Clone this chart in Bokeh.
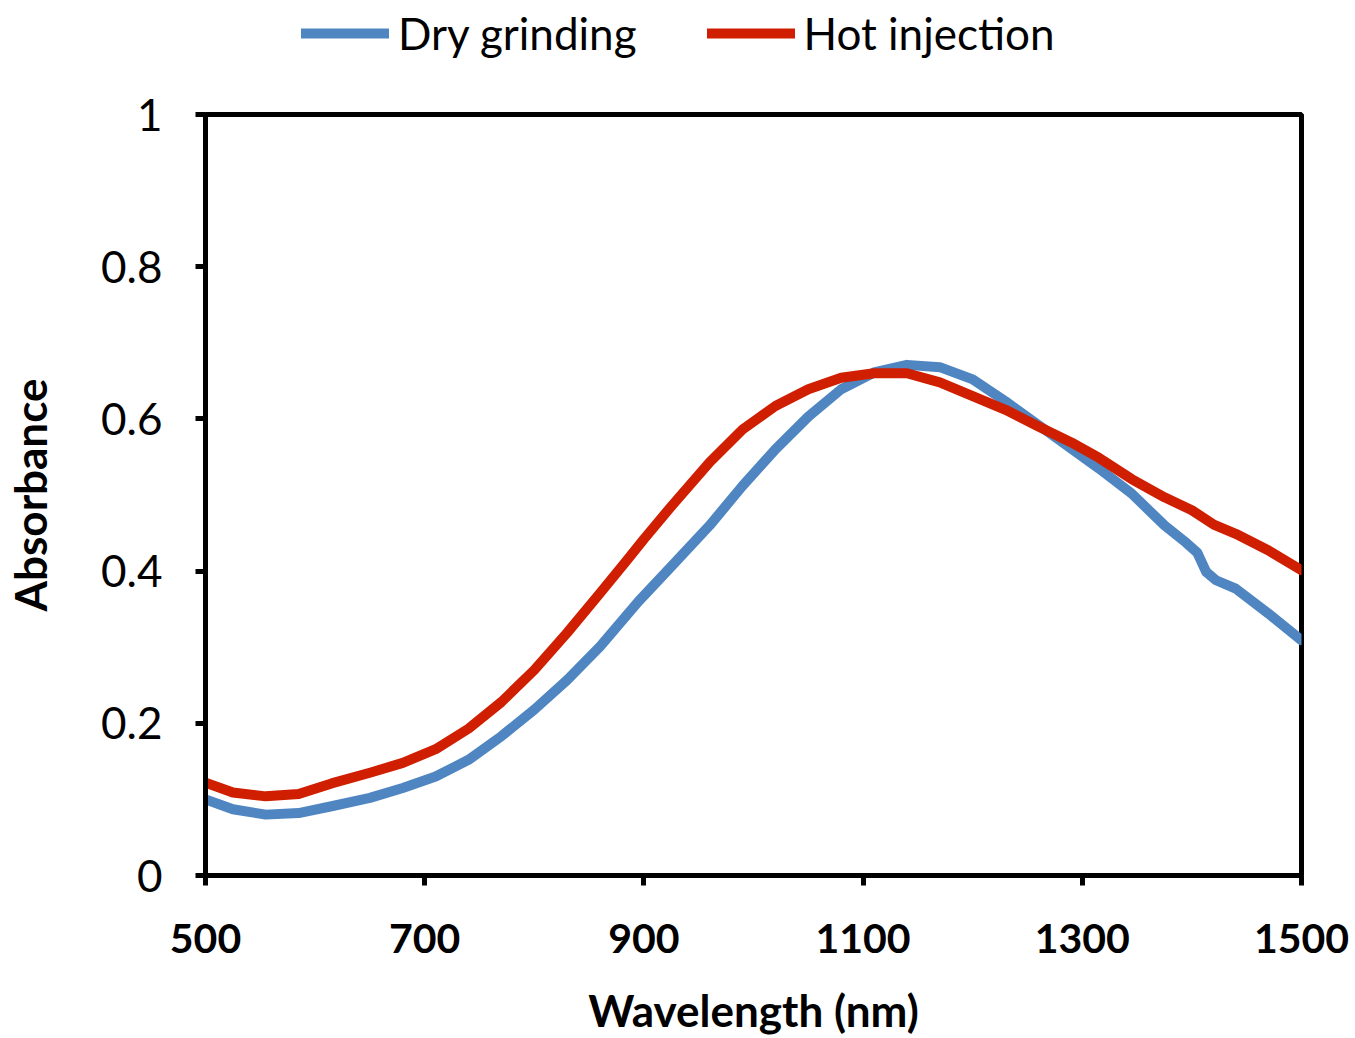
from bokeh.plotting import figure
from bokeh.layouts import column
from bokeh.models import Range1d, FixedTicker, CustomJSTickFormatter, Legend, LegendItem
from bokeh.embed import file_html
from bokeh.resources import INLINE

# Data
wl_dry = [500, 525, 555, 585, 615, 650, 680, 710, 740, 770, 800, 830, 860, 895, 925,
          960, 990, 1020, 1050, 1080, 1110, 1140, 1170, 1200, 1230, 1260, 1290, 1315,
          1345, 1375, 1395, 1405, 1413, 1422, 1440, 1470, 1500]
abs_dry = [0.100, 0.087, 0.080, 0.082, 0.091, 0.102, 0.115, 0.130, 0.152, 0.183, 0.218,
           0.257, 0.301, 0.360, 0.406, 0.460, 0.512, 0.560, 0.603, 0.639, 0.661, 0.671,
           0.668, 0.652, 0.623, 0.592, 0.561, 0.535, 0.502, 0.460, 0.437, 0.424, 0.399,
           0.388, 0.377, 0.344, 0.309]

wl_hot = [500, 525, 555, 585, 615, 650, 680, 710, 740, 770, 800, 830, 860, 885, 900,
          925, 960, 990, 1020, 1050, 1080, 1110, 1140, 1170, 1200, 1230, 1260, 1290,
          1315, 1345, 1375, 1400, 1420, 1440, 1470, 1500]
abs_hot = [0.122, 0.109, 0.104, 0.107, 0.121, 0.135, 0.148, 0.166, 0.193, 0.228, 0.270,
           0.319, 0.371, 0.415, 0.442, 0.485, 0.543, 0.586, 0.617, 0.639, 0.654, 0.660,
           0.660, 0.648, 0.630, 0.612, 0.590, 0.569, 0.549, 0.521, 0.497, 0.480, 0.461,
           0.449, 0.427, 0.401]

series_names = ["Dry grinding", "Hot injection"]
x_ticks = [500, 700, 900, 1100, 1300, 1500]
y_ticks = [0, 0.2, 0.4, 0.6, 0.8, 1.0]

FONT = "Lato"
BLUE = "#4F86C1"
RED = "#CF1E00"

# ---- main plot ----
p = figure(width=1355, height=958, output_backend="svg", toolbar_location=None,
           x_range=Range1d(500, 1500), y_range=Range1d(0, 1),
           min_border_left=205, min_border_right=54, min_border_top=34,
           min_border_bottom=162)

p.grid.visible = False
p.outline_line_color = "black"
p.outline_line_width = 5
p.outline_line_alpha = 1.0

r1 = p.line(wl_dry, abs_dry, line_color=BLUE, line_width=10, line_join="round", line_cap="round")
r2 = p.line(wl_hot, abs_hot, line_color=RED, line_width=10, line_join="round", line_cap="round")

for ax in (p.xaxis[0], p.yaxis[0]):
    ax.axis_line_color = "black"
    ax.axis_line_width = 5
    ax.major_tick_line_color = "black"
    ax.major_tick_line_width = 5
    ax.major_tick_in = 0
    ax.major_tick_out = 10
    ax.minor_tick_line_color = None
    ax.major_label_text_font = FONT
    ax.major_label_text_color = "black"
    ax.axis_label_text_font = FONT
    ax.axis_label_text_font_size = "44px"
    ax.axis_label_text_font_style = "bold"
    ax.axis_label_text_color = "black"

p.xaxis[0].ticker = FixedTicker(ticks=x_ticks)
p.xaxis[0].major_label_text_font_size = "41px"
p.xaxis[0].major_label_text_font_style = "bold"
p.xaxis[0].major_label_standoff = 38
p.xaxis[0].axis_label = "Wavelength (nm)"
p.xaxis[0].axis_label_standoff = 28

p.yaxis[0].ticker = FixedTicker(ticks=y_ticks)
p.yaxis[0].formatter = CustomJSTickFormatter(code="return String(Math.round(tick*10)/10);")
p.yaxis[0].major_label_text_font_size = "44px"
p.yaxis[0].major_label_standoff = 33
p.yaxis[0].axis_label = "Absorbance"
p.yaxis[0].axis_label_standoff = 42

# ---- legend strip above the plot (its lines lie outside its own view) ----
lf = figure(width=1355, height=80, output_backend="svg", toolbar_location=None,
            x_range=Range1d(0, 1), y_range=Range1d(0, 1),
            x_axis_location=None, y_axis_location=None, min_border=0)
lf.grid.visible = False
lf.outline_line_color = None
d1 = lf.line(wl_dry, abs_dry, line_color=BLUE, line_width=10, line_cap="round")
d2 = lf.line(wl_hot, abs_hot, line_color=RED, line_width=10, line_cap="round")
legend = Legend(items=[LegendItem(label=series_names[0], renderers=[d1]),
                       LegendItem(label=series_names[1], renderers=[d2])],
                orientation="horizontal", location=(96, 21),
                glyph_width=88, glyph_height=40, label_standoff=9, spacing=70,
                padding=0, margin=0, border_line_color=None, background_fill_alpha=0,
                label_text_font=FONT, label_text_font_size="44px", label_text_color="black")
lf.add_layout(legend, "center")

layout = column(lf, p, spacing=0)
open("out.html", "w").write(file_html(layout, INLINE))
